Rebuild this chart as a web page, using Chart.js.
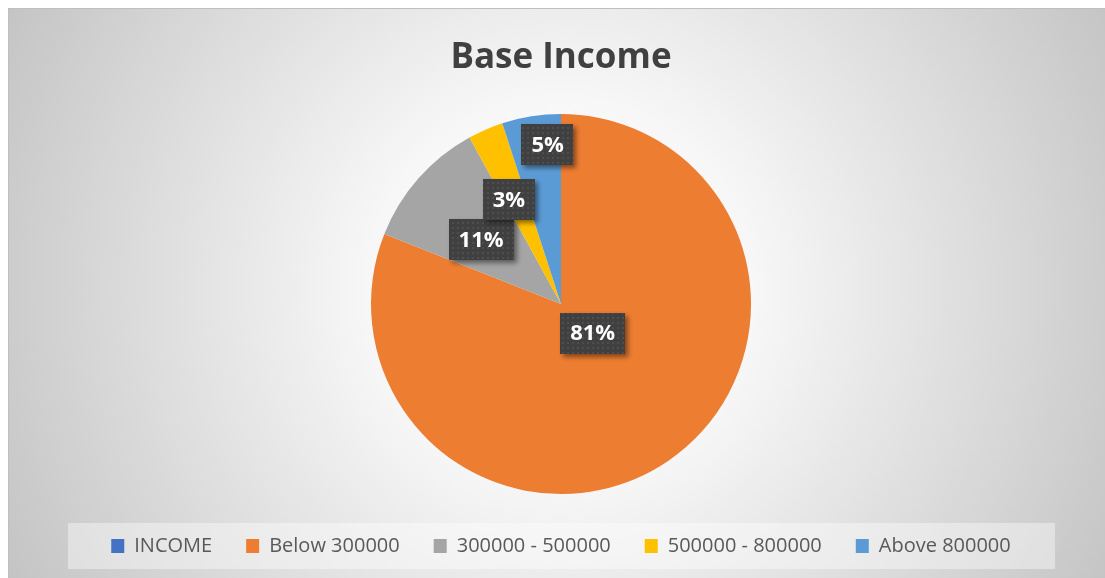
<!DOCTYPE html>
<html>
<head>
<meta charset="utf-8">
<script src="https://cdn.jsdelivr.net/npm/chart.js@4"></script>
<style>
  body { margin: 0; background: #fff; }
  #wrap { width: 1105px; height: 578px; }
</style>
</head>
<body>
<div id="wrap"><canvas id="incomeChart" width="1105" height="578"></canvas></div>
<script>
const incomeLabels = ['INCOME', 'Below 300000', '300000 - 500000', '500000 - 800000', 'Above 800000'];
const incomeShares = [0, 81, 11, 3, 5];
const sliceColors = ['#4472C4', '#ED7D31', '#A5A5A5', '#FFC000', '#5B9BD5'];

// background, frame and the light legend strip
const chartBackground = {
  id: 'chartBackground',
  beforeDraw(chart) {
    const ctx = chart.ctx;
    const w = chart.width, h = chart.height;
    ctx.save();
    ctx.fillStyle = '#fff';
    ctx.fillRect(0, 0, w, h);
    const g = ctx.createRadialGradient(561, 290, 0, 561, 290, 640);
    g.addColorStop(0, '#ffffff');
    g.addColorStop(0.3, '#f7f7f7');
    g.addColorStop(1, '#c2c2c2');
    ctx.fillStyle = g;
    ctx.fillRect(8, 8, w - 8, h - 8);
    ctx.strokeStyle = '#bfbfbf';
    ctx.lineWidth = 1;
    ctx.strokeRect(8.5, 8.5, w, h);
    ctx.fillStyle = 'rgba(255,255,255,0.4)';
    ctx.fillRect(68, 523, 987, 46);
    ctx.restore();
  }
};

function dotPattern(ctx) {
  const c = document.createElement('canvas');
  c.width = 5; c.height = 5;
  const p = c.getContext('2d');
  p.fillStyle = '#404040';
  p.fillRect(0, 0, 5, 5);
  p.fillStyle = '#4e4e4e';
  p.fillRect(2, 2, 2, 2);
  return ctx.createPattern(c, 'repeat');
}

// percentage boxes on the slices
const dataLabels = {
  id: 'dataLabels',
  afterDatasetsDraw(chart, args, opts) {
    const ctx = chart.ctx;
    const meta = chart.getDatasetMeta(0);
    const data = chart.data.datasets[0].data;
    const total = data.reduce((a, b) => a + b, 0);
    const fill = dotPattern(ctx);
    ctx.save();
    ctx.font = 'bold 22px "Open Sans"';
    ctx.textAlign = 'center';
    ctx.textBaseline = 'middle';
    meta.data.forEach((arc, i) => {
      if (!data[i]) return;
      const p = arc.getProps(['x', 'y', 'startAngle', 'endAngle', 'outerRadius'], true);
      const mid = (p.startAngle + p.endAngle) / 2 + opts.turn[i] * Math.PI / 180;
      const r = p.outerRadius * opts.radius[i];
      const cx = p.x + Math.cos(mid) * r;
      const cy = p.y + Math.sin(mid) * r;
      const text = Math.round(data[i] / total * 100) + '%';
      const bw = ctx.measureText(text).width + 20, bh = 41;
      ctx.save();
      ctx.shadowColor = 'rgba(0,0,0,0.45)';
      ctx.shadowBlur = 5;
      ctx.shadowOffsetX = 3;
      ctx.shadowOffsetY = 3;
      ctx.fillStyle = fill;
      ctx.fillRect(Math.round(cx - bw / 2), Math.round(cy - bh / 2), Math.round(bw), bh);
      ctx.restore();
      ctx.fillStyle = '#ffffff';
      ctx.fillText(text, cx, cy + 1);
    });
    ctx.restore();
  }
};

new Chart(document.getElementById('incomeChart'), {
  type: 'pie',
  data: {
    labels: incomeLabels,
    datasets: [{
      data: incomeShares,
      backgroundColor: sliceColors,
      borderWidth: 0,
      radius: 190
    }]
  },
  options: {
    responsive: false,
    animation: false,
    layout: { padding: { left: 17, bottom: 12 } },
    plugins: {
      title: {
        display: true,
        text: 'Base Income',
        color: '#404040',
        font: { family: '"Open Sans"', size: 35, weight: 'bold' },
        padding: { top: 37, bottom: 27 }
      },
      legend: {
        position: 'bottom',
        labels: {
          color: '#595959',
          font: { family: '"Open Sans"', size: 20 },
          boxWidth: 13,
          boxHeight: 14,
          padding: 34
        }
      },
      tooltip: { enabled: false },
      dataLabels: {
        radius: [0, 0.226, 0.539, 0.614, 0.84],
        turn: [0, -13.3, -2.7, -3.1, 4.2]
      }
    }
  },
  plugins: [chartBackground, dataLabels]
});
</script>
</body>
</html>
